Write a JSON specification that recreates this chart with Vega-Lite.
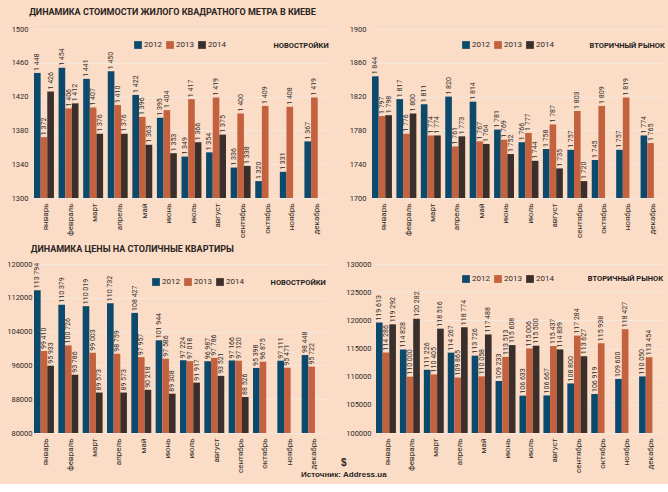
{
  "$schema": "https://vega.github.io/schema/vega-lite/v6.json",
  "background": "#fbdcc6",
  "padding": {"left": 6, "top": 8, "right": 10, "bottom": 4},
  "config": {
    "locale": {"number": {"decimal": ",", "thousands": " ", "grouping": [3], "currency": ["", ""]}},
    "font": "Roboto",
    "view": {"stroke": null},
    "axis": {"labelFont": "Roboto", "labelColor": "#2e2a28", "ticks": false, "domain": false, "title": null},
    "axisY": {"grid": true, "gridColor": "#f6e7dc", "gridWidth": 1, "labelFontSize": 7.5, "labelPadding": 6},
    "axisX": {"grid": false, "labelAngle": -90, "labelFontSize": 8, "labelPadding": 5},
    "legend": {"orient": "none", "direction": "horizontal", "title": null, "symbolType": "square", "symbolSize": 60, "symbolStrokeWidth": 0, "labelFontSize": 8, "labelColor": "#2e2a28", "labelFont": "Roboto", "columnPadding": 4, "labelOffset": 2, "legendY": 12},
    "title": {"font": "Roboto", "fontSize": 9, "fontWeight": "bold", "color": "#2b2623", "anchor": "start"},
    "text": {"font": "Roboto"}
  },
  "datasets": {
    "d": [
      {"panel": "kv_new", "month": "январь", "year": "2012", "value": 1448},
      {"panel": "kv_new", "month": "февраль", "year": "2012", "value": 1454},
      {"panel": "kv_new", "month": "март", "year": "2012", "value": 1441},
      {"panel": "kv_new", "month": "апрель", "year": "2012", "value": 1450},
      {"panel": "kv_new", "month": "май", "year": "2012", "value": 1422},
      {"panel": "kv_new", "month": "июнь", "year": "2012", "value": 1395},
      {"panel": "kv_new", "month": "июль", "year": "2012", "value": 1349},
      {"panel": "kv_new", "month": "август", "year": "2012", "value": 1354},
      {"panel": "kv_new", "month": "сентябрь", "year": "2012", "value": 1336},
      {"panel": "kv_new", "month": "октябрь", "year": "2012", "value": 1320},
      {"panel": "kv_new", "month": "ноябрь", "year": "2012", "value": 1331},
      {"panel": "kv_new", "month": "декабрь", "year": "2012", "value": 1367},
      {"panel": "kv_new", "month": "январь", "year": "2013", "value": 1372},
      {"panel": "kv_new", "month": "февраль", "year": "2013", "value": 1406},
      {"panel": "kv_new", "month": "март", "year": "2013", "value": 1407},
      {"panel": "kv_new", "month": "апрель", "year": "2013", "value": 1410},
      {"panel": "kv_new", "month": "май", "year": "2013", "value": 1396},
      {"panel": "kv_new", "month": "июнь", "year": "2013", "value": 1404},
      {"panel": "kv_new", "month": "июль", "year": "2013", "value": 1417},
      {"panel": "kv_new", "month": "август", "year": "2013", "value": 1419},
      {"panel": "kv_new", "month": "сентябрь", "year": "2013", "value": 1400},
      {"panel": "kv_new", "month": "октябрь", "year": "2013", "value": 1409},
      {"panel": "kv_new", "month": "ноябрь", "year": "2013", "value": 1408},
      {"panel": "kv_new", "month": "декабрь", "year": "2013", "value": 1419},
      {"panel": "kv_new", "month": "январь", "year": "2014", "value": 1426},
      {"panel": "kv_new", "month": "февраль", "year": "2014", "value": 1412},
      {"panel": "kv_new", "month": "март", "year": "2014", "value": 1376},
      {"panel": "kv_new", "month": "апрель", "year": "2014", "value": 1376},
      {"panel": "kv_new", "month": "май", "year": "2014", "value": 1363},
      {"panel": "kv_new", "month": "июнь", "year": "2014", "value": 1353},
      {"panel": "kv_new", "month": "июль", "year": "2014", "value": 1366},
      {"panel": "kv_new", "month": "август", "year": "2014", "value": 1375},
      {"panel": "kv_new", "month": "сентябрь", "year": "2014", "value": 1338},
      {"panel": "kv_sec", "month": "январь", "year": "2012", "value": 1844},
      {"panel": "kv_sec", "month": "февраль", "year": "2012", "value": 1817},
      {"panel": "kv_sec", "month": "март", "year": "2012", "value": 1811},
      {"panel": "kv_sec", "month": "апрель", "year": "2012", "value": 1820},
      {"panel": "kv_sec", "month": "май", "year": "2012", "value": 1814},
      {"panel": "kv_sec", "month": "июнь", "year": "2012", "value": 1781},
      {"panel": "kv_sec", "month": "июль", "year": "2012", "value": 1766},
      {"panel": "kv_sec", "month": "август", "year": "2012", "value": 1758},
      {"panel": "kv_sec", "month": "сентябрь", "year": "2012", "value": 1757},
      {"panel": "kv_sec", "month": "октябрь", "year": "2012", "value": 1745},
      {"panel": "kv_sec", "month": "ноябрь", "year": "2012", "value": 1757},
      {"panel": "kv_sec", "month": "декабрь", "year": "2012", "value": 1774},
      {"panel": "kv_sec", "month": "январь", "year": "2013", "value": 1797},
      {"panel": "kv_sec", "month": "февраль", "year": "2013", "value": 1776},
      {"panel": "kv_sec", "month": "март", "year": "2013", "value": 1774},
      {"panel": "kv_sec", "month": "апрель", "year": "2013", "value": 1761},
      {"panel": "kv_sec", "month": "май", "year": "2013", "value": 1767},
      {"panel": "kv_sec", "month": "июнь", "year": "2013", "value": 1769},
      {"panel": "kv_sec", "month": "июль", "year": "2013", "value": 1777},
      {"panel": "kv_sec", "month": "август", "year": "2013", "value": 1787},
      {"panel": "kv_sec", "month": "сентябрь", "year": "2013", "value": 1803},
      {"panel": "kv_sec", "month": "октябрь", "year": "2013", "value": 1809},
      {"panel": "kv_sec", "month": "ноябрь", "year": "2013", "value": 1819},
      {"panel": "kv_sec", "month": "декабрь", "year": "2013", "value": 1765},
      {"panel": "kv_sec", "month": "январь", "year": "2014", "value": 1798},
      {"panel": "kv_sec", "month": "февраль", "year": "2014", "value": 1800},
      {"panel": "kv_sec", "month": "март", "year": "2014", "value": 1774},
      {"panel": "kv_sec", "month": "апрель", "year": "2014", "value": 1773},
      {"panel": "kv_sec", "month": "май", "year": "2014", "value": 1764},
      {"panel": "kv_sec", "month": "июнь", "year": "2014", "value": 1752},
      {"panel": "kv_sec", "month": "июль", "year": "2014", "value": 1744},
      {"panel": "kv_sec", "month": "август", "year": "2014", "value": 1735},
      {"panel": "kv_sec", "month": "сентябрь", "year": "2014", "value": 1720},
      {"panel": "apt_new", "month": "январь", "year": "2012", "value": 113794},
      {"panel": "apt_new", "month": "февраль", "year": "2012", "value": 110379},
      {"panel": "apt_new", "month": "март", "year": "2012", "value": 110019},
      {"panel": "apt_new", "month": "апрель", "year": "2012", "value": 110732},
      {"panel": "apt_new", "month": "май", "year": "2012", "value": 108427},
      {"panel": "apt_new", "month": "июнь", "year": "2012", "value": 101944},
      {"panel": "apt_new", "month": "июль", "year": "2012", "value": 97224},
      {"panel": "apt_new", "month": "август", "year": "2012", "value": 96987},
      {"panel": "apt_new", "month": "сентябрь", "year": "2012", "value": 97166},
      {"panel": "apt_new", "month": "октябрь", "year": "2012", "value": 95398},
      {"panel": "apt_new", "month": "ноябрь", "year": "2012", "value": 97111},
      {"panel": "apt_new", "month": "декабрь", "year": "2012", "value": 98448},
      {"panel": "apt_new", "month": "январь", "year": "2013", "value": 99410},
      {"panel": "apt_new", "month": "февраль", "year": "2013", "value": 100726},
      {"panel": "apt_new", "month": "март", "year": "2013", "value": 99003},
      {"panel": "apt_new", "month": "апрель", "year": "2013", "value": 98759},
      {"panel": "apt_new", "month": "май", "year": "2013", "value": 97957},
      {"panel": "apt_new", "month": "июнь", "year": "2013", "value": 97586},
      {"panel": "apt_new", "month": "июль", "year": "2013", "value": 97018},
      {"panel": "apt_new", "month": "август", "year": "2013", "value": 97786},
      {"panel": "apt_new", "month": "сентябрь", "year": "2013", "value": 97120},
      {"panel": "apt_new", "month": "октябрь", "year": "2013", "value": 96875},
      {"panel": "apt_new", "month": "ноябрь", "year": "2013", "value": 95471},
      {"panel": "apt_new", "month": "декабрь", "year": "2013", "value": 95722},
      {"panel": "apt_new", "month": "январь", "year": "2014", "value": 95933},
      {"panel": "apt_new", "month": "февраль", "year": "2014", "value": 93786},
      {"panel": "apt_new", "month": "март", "year": "2014", "value": 89573},
      {"panel": "apt_new", "month": "апрель", "year": "2014", "value": 89573},
      {"panel": "apt_new", "month": "май", "year": "2014", "value": 90218},
      {"panel": "apt_new", "month": "июнь", "year": "2014", "value": 89308},
      {"panel": "apt_new", "month": "июль", "year": "2014", "value": 91917},
      {"panel": "apt_new", "month": "август", "year": "2014", "value": 93521},
      {"panel": "apt_new", "month": "сентябрь", "year": "2014", "value": 88526},
      {"panel": "apt_sec", "month": "январь", "year": "2012", "value": 119613},
      {"panel": "apt_sec", "month": "февраль", "year": "2012", "value": 114828},
      {"panel": "apt_sec", "month": "март", "year": "2012", "value": 111226},
      {"panel": "apt_sec", "month": "апрель", "year": "2012", "value": 114267},
      {"panel": "apt_sec", "month": "май", "year": "2012", "value": 113726},
      {"panel": "apt_sec", "month": "июнь", "year": "2012", "value": 109233},
      {"panel": "apt_sec", "month": "июль", "year": "2012", "value": 106633},
      {"panel": "apt_sec", "month": "август", "year": "2012", "value": 106667},
      {"panel": "apt_sec", "month": "сентябрь", "year": "2012", "value": 108800},
      {"panel": "apt_sec", "month": "октябрь", "year": "2012", "value": 106919},
      {"panel": "apt_sec", "month": "ноябрь", "year": "2012", "value": 109600},
      {"panel": "apt_sec", "month": "декабрь", "year": "2012", "value": 110050},
      {"panel": "apt_sec", "month": "январь", "year": "2013", "value": 114286},
      {"panel": "apt_sec", "month": "февраль", "year": "2013", "value": 110000},
      {"panel": "apt_sec", "month": "март", "year": "2013", "value": 110405},
      {"panel": "apt_sec", "month": "апрель", "year": "2013", "value": 109865},
      {"panel": "apt_sec", "month": "май", "year": "2013", "value": 110058},
      {"panel": "apt_sec", "month": "июнь", "year": "2013", "value": 113513},
      {"panel": "apt_sec", "month": "июль", "year": "2013", "value": 115006},
      {"panel": "apt_sec", "month": "август", "year": "2013", "value": 115437},
      {"panel": "apt_sec", "month": "сентябрь", "year": "2013", "value": 117284},
      {"panel": "apt_sec", "month": "октябрь", "year": "2013", "value": 115938},
      {"panel": "apt_sec", "month": "ноябрь", "year": "2013", "value": 118427},
      {"panel": "apt_sec", "month": "декабрь", "year": "2013", "value": 113454},
      {"panel": "apt_sec", "month": "январь", "year": "2014", "value": 119292},
      {"panel": "apt_sec", "month": "февраль", "year": "2014", "value": 120282},
      {"panel": "apt_sec", "month": "март", "year": "2014", "value": 118516},
      {"panel": "apt_sec", "month": "апрель", "year": "2014", "value": 118774},
      {"panel": "apt_sec", "month": "май", "year": "2014", "value": 117488},
      {"panel": "apt_sec", "month": "июнь", "year": "2014", "value": 115608},
      {"panel": "apt_sec", "month": "июль", "year": "2014", "value": 115500},
      {"panel": "apt_sec", "month": "август", "year": "2014", "value": 114839},
      {"panel": "apt_sec", "month": "сентябрь", "year": "2014", "value": 113627}
    ],
    "labels": [
      {"panel": "kv_new", "label": "НОВОСТРОЙКИ"},
      {"panel": "kv_sec", "label": "ВТОРИЧНЫЙ РЫНОК"},
      {"panel": "apt_new", "label": "НОВОСТРОЙКИ"},
      {"panel": "apt_sec", "label": "ВТОРИЧНЫЙ РЫНОК"}
    ]
  },
  "title": {"text": "$", "subtitle": "Источник: Address.ua", "orient": "bottom", "anchor": "middle", "offset": -14, "dx": 8, "fontSize": 10, "font": "Liberation Sans", "subtitleFont": "Liberation Sans", "subtitleFontSize": 8, "subtitleFontWeight": "bold", "subtitleColor": "#2b2623", "subtitlePadding": 3},
  "resolve": {"scale": {"color": "independent"}, "legend": {"color": "independent"}},
  "spacing": 7,
  "vconcat": [
    {
      "title": {"text": "ДИНАМИКА СТОИМОСТИ ЖИЛОГО КВАДРАТНОГО МЕТРА В КИЕВЕ", "offset": 8, "dx": 18},
      "spacing": 20,
      "resolve": {"scale": {"color": "independent", "y": "independent", "x": "independent"}, "legend": {"color": "independent"}},
      "hconcat": [
        {
          "width": 295, "height": 169,
          "layer": [
            {
              "data": {"name": "d"}, "transform": [{"filter": "datum.panel == 'kv_new'"}],
              "mark": {"type": "bar"},
              "encoding": {
                "x": {"field": "month", "type": "nominal", "sort": ["январь","февраль","март","апрель","май","июнь","июль","август","сентябрь","октябрь","ноябрь","декабрь"], "scale": {"paddingInner": 0, "paddingOuter": 0}},
                "xOffset": {"field": "year", "type": "nominal", "scale": {"paddingInner": 0, "paddingOuter": 0.35, "align": 0}},
                "y": {"field": "value", "type": "quantitative", "scale": {"domain": [1300, 1500], "zero": false, "nice": false}, "axis": {"values": [1300,1340,1380,1420,1460,1500], "tickCount": 20, "format": "d", "labelOverlap": false}},
                "y2": {"datum": 1300},
                "color": {"field": "year", "type": "nominal", "scale": {"domain": ["2012","2013","2014"], "range": ["#0b4a6c","#c4623f","#3a2f2b"]}, "legend": {"legendX": 100}}
              }
            },
            {
              "data": {"name": "d"}, "transform": [{"filter": "datum.panel == 'kv_new'"}],
              "mark": {"type": "text", "angle": 270, "align": "left", "baseline": "middle", "dx": 2, "fontSize": 7, "color": "#2e2a28"},
              "encoding": {
                "x": {"field": "month", "type": "nominal", "sort": ["январь","февраль","март","апрель","май","июнь","июль","август","сентябрь","октябрь","ноябрь","декабрь"], "scale": {"paddingInner": 0, "paddingOuter": 0}},
                "xOffset": {"field": "year", "type": "nominal", "scale": {"paddingInner": 0, "paddingOuter": 0.35, "align": 0}},
                "y": {"field": "value", "type": "quantitative", "scale": {"domain": [1300, 1500], "zero": false, "nice": false}, "axis": {"values": [1300,1340,1380,1420,1460,1500], "tickCount": 20, "format": "d", "labelOverlap": false}},
                "text": {"field": "value", "type": "quantitative", "format": ",d"}
              }
            },
            {
              "data": {"name": "labels"}, "transform": [{"filter": "datum.panel == 'kv_new'"}],
              "mark": {"type": "text", "align": "right", "baseline": "middle", "dx": 12, "fontSize": 7.5, "fontWeight": "bold", "color": "#221e1c"},
              "encoding": {
                "x": {"datum": "декабрь", "type": "nominal"},
                "y": {"datum": 1480, "type": "quantitative", "scale": {"domain": [1300, 1500], "zero": false, "nice": false}},
                "text": {"field": "label"}
              }
            }
          ]
        },
        {
          "width": 293, "height": 169,
          "layer": [
            {
              "data": {"name": "d"}, "transform": [{"filter": "datum.panel == 'kv_sec'"}],
              "mark": {"type": "bar"},
              "encoding": {
                "x": {"field": "month", "type": "nominal", "sort": ["январь","февраль","март","апрель","май","июнь","июль","август","сентябрь","октябрь","ноябрь","декабрь"], "scale": {"paddingInner": 0, "paddingOuter": 0}},
                "xOffset": {"field": "year", "type": "nominal", "scale": {"paddingInner": 0, "paddingOuter": 0.35, "align": 0}},
                "y": {"field": "value", "type": "quantitative", "scale": {"domain": [1700, 1900], "zero": false, "nice": false}, "axis": {"values": [1700,1740,1780,1820,1860,1900], "tickCount": 20, "format": "d", "labelOverlap": false}},
                "y2": {"datum": 1700},
                "color": {"field": "year", "type": "nominal", "scale": {"domain": ["2012","2013","2014"], "range": ["#0b4a6c","#c4623f","#3a2f2b"]}, "legend": {"legendX": 90}}
              }
            },
            {
              "data": {"name": "d"}, "transform": [{"filter": "datum.panel == 'kv_sec'"}],
              "mark": {"type": "text", "angle": 270, "align": "left", "baseline": "middle", "dx": 2, "fontSize": 7, "color": "#2e2a28"},
              "encoding": {
                "x": {"field": "month", "type": "nominal", "sort": ["январь","февраль","март","апрель","май","июнь","июль","август","сентябрь","октябрь","ноябрь","декабрь"], "scale": {"paddingInner": 0, "paddingOuter": 0}},
                "xOffset": {"field": "year", "type": "nominal", "scale": {"paddingInner": 0, "paddingOuter": 0.35, "align": 0}},
                "y": {"field": "value", "type": "quantitative", "scale": {"domain": [1700, 1900], "zero": false, "nice": false}, "axis": {"values": [1700,1740,1780,1820,1860,1900], "tickCount": 20, "format": "d", "labelOverlap": false}},
                "text": {"field": "value", "type": "quantitative", "format": ",d"}
              }
            },
            {
              "data": {"name": "labels"}, "transform": [{"filter": "datum.panel == 'kv_sec'"}],
              "mark": {"type": "text", "align": "right", "baseline": "middle", "dx": 12, "fontSize": 7.5, "fontWeight": "bold", "color": "#221e1c"},
              "encoding": {
                "x": {"datum": "декабрь", "type": "nominal"},
                "y": {"datum": 1880, "type": "quantitative", "scale": {"domain": [1700, 1900], "zero": false, "nice": false}},
                "text": {"field": "label"}
              }
            }
          ]
        }
      ]
    },
    {
      "title": {"text": "ДИНАМИКА ЦЕНЫ НА СТОЛИЧНЫЕ КВАРТИРЫ", "offset": 6, "dx": 24},
      "spacing": 19,
      "resolve": {"scale": {"color": "independent", "y": "independent", "x": "independent"}, "legend": {"color": "independent"}},
      "hconcat": [
        {
          "width": 292, "height": 169,
          "layer": [
            {
              "data": {"name": "d"}, "transform": [{"filter": "datum.panel == 'apt_new'"}],
              "mark": {"type": "bar"},
              "encoding": {
                "x": {"field": "month", "type": "nominal", "sort": ["январь","февраль","март","апрель","май","июнь","июль","август","сентябрь","октябрь","ноябрь","декабрь"], "scale": {"paddingInner": 0, "paddingOuter": 0}},
                "xOffset": {"field": "year", "type": "nominal", "scale": {"paddingInner": 0, "paddingOuter": 0.35, "align": 0.2}},
                "y": {"field": "value", "type": "quantitative", "scale": {"domain": [80000, 120000], "zero": false, "nice": false}, "axis": {"values": [80000,88000,96000,104000,112000,120000], "tickCount": 20, "format": "d", "labelPadding": 2, "labelOverlap": false}},
                "y2": {"datum": 80000},
                "color": {"field": "year", "type": "nominal", "scale": {"domain": ["2012","2013","2014"], "range": ["#0b4a6c","#c4623f","#3a2f2b"]}, "legend": {"legendX": 118, "legendY": 14}}
              }
            },
            {
              "data": {"name": "d"}, "transform": [{"filter": "datum.panel == 'apt_new'"}],
              "mark": {"type": "text", "angle": 270, "align": "left", "baseline": "middle", "dx": 2, "fontSize": 7, "color": "#2e2a28"},
              "encoding": {
                "x": {"field": "month", "type": "nominal", "sort": ["январь","февраль","март","апрель","май","июнь","июль","август","сентябрь","октябрь","ноябрь","декабрь"], "scale": {"paddingInner": 0, "paddingOuter": 0}},
                "xOffset": {"field": "year", "type": "nominal", "scale": {"paddingInner": 0, "paddingOuter": 0.35, "align": 0.2}},
                "y": {"field": "value", "type": "quantitative", "scale": {"domain": [80000, 120000], "zero": false, "nice": false}, "axis": {"values": [80000,88000,96000,104000,112000,120000], "tickCount": 20, "format": "d", "labelPadding": 2, "labelOverlap": false}},
                "text": {"field": "value", "type": "quantitative", "format": ",d"}
              }
            },
            {
              "data": {"name": "labels"}, "transform": [{"filter": "datum.panel == 'apt_new'"}],
              "mark": {"type": "text", "align": "right", "baseline": "middle", "dx": 12, "fontSize": 7.5, "fontWeight": "bold", "color": "#221e1c"},
              "encoding": {
                "x": {"datum": "декабрь", "type": "nominal"},
                "y": {"datum": 115500, "type": "quantitative", "scale": {"domain": [80000, 120000], "zero": false, "nice": false}},
                "text": {"field": "label"}
              }
            }
          ]
        },
        {
          "width": 287, "height": 169,
          "layer": [
            {
              "data": {"name": "d"}, "transform": [{"filter": "datum.panel == 'apt_sec'"}],
              "mark": {"type": "bar"},
              "encoding": {
                "x": {"field": "month", "type": "nominal", "sort": ["январь","февраль","март","апрель","май","июнь","июль","август","сентябрь","октябрь","ноябрь","декабрь"], "scale": {"paddingInner": 0, "paddingOuter": 0}},
                "xOffset": {"field": "year", "type": "nominal", "scale": {"paddingInner": 0, "paddingOuter": 0.35, "align": 0.2}},
                "y": {"field": "value", "type": "quantitative", "scale": {"domain": [100000, 130000], "zero": false, "nice": false}, "axis": {"values": [100000,105000,110000,115000,120000,125000,130000], "tickCount": 20, "format": "d", "labelPadding": 5, "labelOverlap": false}},
                "y2": {"datum": 100000},
                "color": {"field": "year", "type": "nominal", "scale": {"domain": ["2012","2013","2014"], "range": ["#0b4a6c","#c4623f","#3a2f2b"]}, "legend": {"legendX": 86, "legendY": 11}}
              }
            },
            {
              "data": {"name": "d"}, "transform": [{"filter": "datum.panel == 'apt_sec'"}],
              "mark": {"type": "text", "angle": 270, "align": "left", "baseline": "middle", "dx": 2, "fontSize": 7, "color": "#2e2a28"},
              "encoding": {
                "x": {"field": "month", "type": "nominal", "sort": ["январь","февраль","март","апрель","май","июнь","июль","август","сентябрь","октябрь","ноябрь","декабрь"], "scale": {"paddingInner": 0, "paddingOuter": 0}},
                "xOffset": {"field": "year", "type": "nominal", "scale": {"paddingInner": 0, "paddingOuter": 0.35, "align": 0.2}},
                "y": {"field": "value", "type": "quantitative", "scale": {"domain": [100000, 130000], "zero": false, "nice": false}, "axis": {"values": [100000,105000,110000,115000,120000,125000,130000], "tickCount": 20, "format": "d", "labelPadding": 5, "labelOverlap": false}},
                "text": {"field": "value", "type": "quantitative", "format": ",d"}
              }
            },
            {
              "data": {"name": "labels"}, "transform": [{"filter": "datum.panel == 'apt_sec'"}],
              "mark": {"type": "text", "align": "right", "baseline": "middle", "dx": 12, "fontSize": 7.5, "fontWeight": "bold", "color": "#221e1c"},
              "encoding": {
                "x": {"datum": "декабрь", "type": "nominal"},
                "y": {"datum": 127300, "type": "quantitative", "scale": {"domain": [100000, 130000], "zero": false, "nice": false}},
                "text": {"field": "label"}
              }
            }
          ]
        }
      ]
    }
  ]
}
